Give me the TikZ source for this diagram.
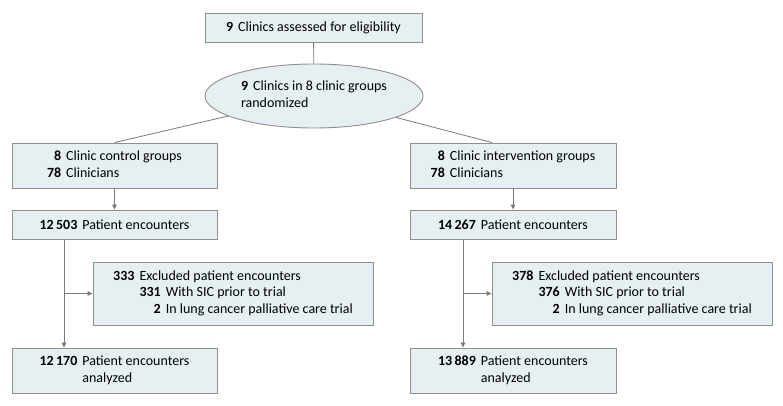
\documentclass[tikz,border=0pt]{standalone}
\usepackage{fontspec}
\setmainfont{Carlito}
\usetikzlibrary{shapes.geometric,arrows.meta}
\definecolor{boxfill}{HTML}{E6F0F3}
\definecolor{boxline}{HTML}{8F8F8F}
\definecolor{conn}{HTML}{7A7A7A}
\tikzset{
  box/.style={draw=boxline, fill=boxfill, line width=0.9pt, inner sep=0pt, align=center, font=\fontsize{14}{16.8}\selectfont},
  oval/.style={box, ellipse},
  link/.style={draw=conn, line width=0.8pt},
  arr/.style={link, -{Triangle[length=5pt,width=4.5pt]}}
}
\newcommand{\nb}[1]{\textbf{#1}}
\begin{document}
\begin{tikzpicture}[x=1pt,y=-1pt]
\useasboundingbox (0,0) rectangle (783,406);
\node[box, minimum width=217pt, minimum height=29pt] (top) at (313.5,27.5) {\nb{9}\hspace{5pt}Clinics assessed for eligibility};
\node[oval, minimum width=218pt, minimum height=64pt] (ell) at (314,96) {\begin{tabular}{@{}l@{}}\nb{9}\hspace{5pt}Clinics in 8 clinic groups\\randomized\end{tabular}};
% control arm
\node[box, minimum width=205pt, minimum height=45pt] (c1) at (114.5,165.5) {\begin{tabular}{@{}r@{\hspace{5pt}}l@{}}\nb{8} & Clinic control groups\\ \nb{78} & Clinicians\end{tabular}};
\node[box, minimum width=205pt, minimum height=29pt] (c2) at (114.5,224.5) {\nb{12\,503}\hspace{5pt}Patient encounters};
\node[box, minimum width=280pt, minimum height=63pt] (cex) at (233,293.5) {\begin{tabular}{@{}r@{\hspace{5pt}}r@{\hspace{5pt}}l@{}}\nb{333} & \multicolumn{2}{@{}l@{}}{Excluded patient encounters}\\ & \nb{331} & With SIC prior to trial\\ & \nb{2} & In lung cancer palliative care trial\end{tabular}};
\node[box, minimum width=205pt, minimum height=45pt] (c3) at (114.5,370.5) {\begin{tabular}{@{}r@{\hspace{5pt}}l@{}}\nb{12\,170} & Patient encounters\\ & analyzed\end{tabular}};
% intervention arm
\node[box, minimum width=206pt, minimum height=45pt] (i1) at (513,165.5) {\begin{tabular}{@{}r@{\hspace{5pt}}l@{}}\nb{8} & Clinic intervention groups\\ \nb{78} & Clinicians\end{tabular}};
\node[box, minimum width=206pt, minimum height=29pt] (i2) at (513,224.5) {\nb{14\,267}\hspace{5pt}Patient encounters};
\node[box, minimum width=280pt, minimum height=63pt] (iex) at (632,293.5) {\begin{tabular}{@{}r@{\hspace{5pt}}r@{\hspace{5pt}}l@{}}\nb{378} & \multicolumn{2}{@{}l@{}}{Excluded patient encounters}\\ & \nb{376} & With SIC prior to trial\\ & \nb{2} & In lung cancer palliative care trial\end{tabular}};
\node[box, minimum width=206pt, minimum height=45pt] (i3) at (513,370.5) {\begin{tabular}{@{}r@{\hspace{5pt}}l@{}}\nb{13\,889} & Patient encounters\\ & analyzed\end{tabular}};
% junction points
\coordinate (cj) at (64,293.5);
\coordinate (ij) at (463,293.5);
% connectors
\draw[link] (top) -- (ell);
\draw[link] (ell) -- (c1.north);
\draw[link] (ell) -- ([xshift=-21pt]i1.north);
\draw[arr] (c1) -- (c2);
\draw[arr] (i1) -- (i2);
\draw[arr] (c2.south -| cj) -- (c3.north -| cj);
\draw[arr] (i2.south -| ij) -- (i3.north -| ij);
\draw[arr] (cj) -- (cex);
\draw[arr] (ij) -- (iex);
\end{tikzpicture}
\end{document}
